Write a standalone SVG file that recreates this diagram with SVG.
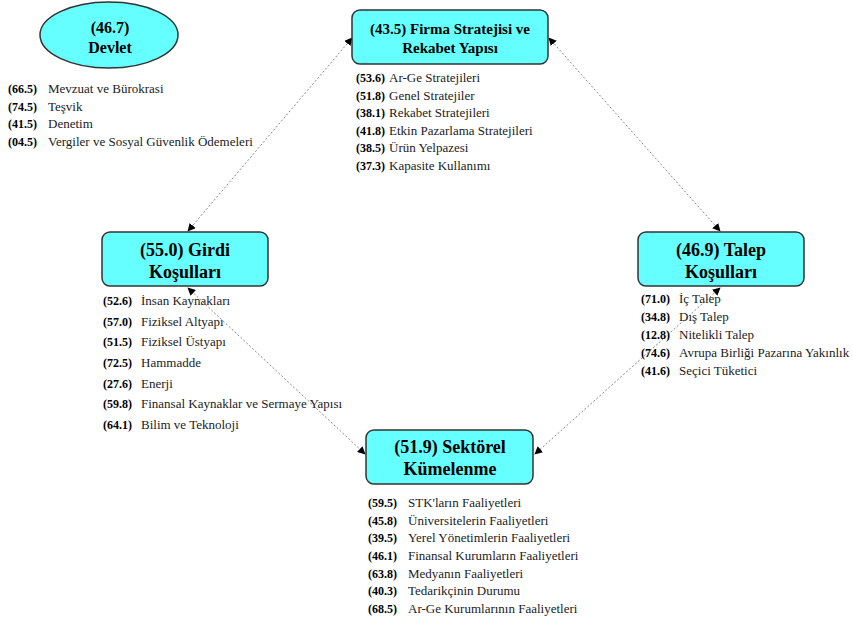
<svg xmlns="http://www.w3.org/2000/svg" width="853" height="622" viewBox="0 0 853 622" font-family="'Liberation Serif', 'Times New Roman', serif">
<defs>
<style>
.box{fill:#66ffff;stroke:#333;stroke-width:1.5}
.title{font-family:'Liberation Serif','Times New Roman',serif;font-weight:bold;fill:#000;text-anchor:middle}
.t18{font-size:18px}
.t16{font-size:16px}
.t15{font-size:15px}
.num{font-family:'Liberation Serif','Times New Roman',serif;font-weight:bold;font-size:12px;fill:#000}
.lbl{font-family:'Liberation Serif','Times New Roman',serif;font-size:13px;fill:#222}
.conn{stroke:#888;stroke-width:1;stroke-dasharray:2 2;fill:none;marker-start:url(#ah);marker-end:url(#ah)}
</style>
<marker id="ah" viewBox="0 0 10 10" refX="9" refY="5" markerWidth="8" markerHeight="8" markerUnits="userSpaceOnUse" orient="auto-start-reverse">
<path d="M0,0 L10,5 L0,10 z" fill="#000"/>
</marker>
</defs>
<g id="connectors">
<line class="conn" x1="188" y1="231" x2="352" y2="38"/>
<line class="conn" x1="549" y1="38" x2="720" y2="231"/>
<line class="conn" x1="188" y1="288" x2="365" y2="454"/>
<line class="conn" x1="720" y1="288" x2="535" y2="454"/>
</g>
<g id="devlet">
<ellipse class="box" cx="109" cy="35" rx="69" ry="33"/>
<text class="title t16" x="110" y="33">(46.7)</text>
<text class="title t16" x="110" y="53">Devlet</text>
<text class="num" x="8" y="93">(66.5)</text><text class="lbl" x="48" y="93">Mevzuat ve Bürokrasi</text>
<text class="num" x="8" y="110.5">(74.5)</text><text class="lbl" x="48" y="110.5">Teşvik</text>
<text class="num" x="8" y="128">(41.5)</text><text class="lbl" x="48" y="128">Denetim</text>
<text class="num" x="8" y="145.5">(04.5)</text><text class="lbl" x="48" y="145.5">Vergiler  ve Sosyal Güvenlik Ödemeleri</text>
</g>
<g id="firma">
<rect class="box" x="352" y="10" width="196" height="54" rx="8"/>
<text class="title t15" x="450" y="34">(43.5) Firma Stratejisi ve</text>
<text class="title t15" x="450" y="53">Rekabet Yapısı</text>
<text class="num" x="356" y="82">(53.6)</text><text class="lbl" x="389" y="82">Ar-Ge Stratejileri</text>
<text class="num" x="356" y="99.6">(51.8)</text><text class="lbl" x="389" y="99.6">Genel Stratejiler</text>
<text class="num" x="356" y="117.2">(38.1)</text><text class="lbl" x="389" y="117.2">Rekabet Stratejileri</text>
<text class="num" x="356" y="134.8">(41.8)</text><text class="lbl" x="389" y="134.8">Etkin Pazarlama Stratejileri</text>
<text class="num" x="356" y="152.4">(38.5)</text><text class="lbl" x="389" y="152.4">Ürün Yelpazesi</text>
<text class="num" x="356" y="170">(37.3)</text><text class="lbl" x="389" y="170">Kapasite Kullanımı</text>
</g>
<g id="girdi">
<rect class="box" x="102" y="232" width="166" height="54" rx="8"/>
<text class="title t18" x="185" y="256">(55.0) Girdi</text>
<text class="title t18" x="185" y="278">Koşulları</text>
<text class="num" x="103" y="305">(52.6)</text><text class="lbl" x="141" y="305">İnsan Kaynakları</text>
<text class="num" x="103" y="325.7">(57.0)</text><text class="lbl" x="141" y="325.7">Fiziksel Altyapı</text>
<text class="num" x="103" y="346.3">(51.5)</text><text class="lbl" x="141" y="346.3">Fiziksel Üstyapı</text>
<text class="num" x="103" y="367">(72.5)</text><text class="lbl" x="141" y="367">Hammadde</text>
<text class="num" x="103" y="387.7">(27.6)</text><text class="lbl" x="141" y="387.7">Enerji</text>
<text class="num" x="103" y="408.3">(59.8)</text><text class="lbl" x="141" y="408.3">Finansal Kaynaklar ve Sermaye Yapısı</text>
<text class="num" x="103" y="429">(64.1)</text><text class="lbl" x="141" y="429">Bilim ve Teknoloji</text>
</g>
<g id="talep">
<rect class="box" x="638" y="232" width="166" height="54" rx="8"/>
<text class="title t18" x="721" y="256">(46.9) Talep</text>
<text class="title t18" x="721" y="278">Koşulları</text>
<text class="num" x="641" y="303">(71.0)</text><text class="lbl" x="679" y="303">İç Talep</text>
<text class="num" x="641" y="321">(34.8)</text><text class="lbl" x="679" y="321">Dış Talep</text>
<text class="num" x="641" y="339">(12.8)</text><text class="lbl" x="679" y="339">Nitelikli  Talep</text>
<text class="num" x="641" y="357">(74.6)</text><text class="lbl" x="679" y="357">Avrupa Birliği  Pazarına Yakınlık</text>
<text class="num" x="641" y="375">(41.6)</text><text class="lbl" x="679" y="375">Seçici Tüketici</text>
</g>
<g id="sektorel">
<rect class="box" x="366" y="430" width="167" height="54" rx="8"/>
<text class="title t18" x="450" y="453">(51.9) Sektörel</text>
<text class="title t18" x="450" y="475">Kümelenme</text>
<text class="num" x="368" y="507">(59.5)</text><text class="lbl" x="408" y="507">STK'ların  Faaliyetleri</text>
<text class="num" x="368" y="524.7">(45.8)</text><text class="lbl" x="408" y="524.7">Üniversitelerin  Faaliyetleri</text>
<text class="num" x="368" y="542.3">(39.5)</text><text class="lbl" x="408" y="542.3">Yerel Yönetimlerin Faaliyetleri</text>
<text class="num" x="368" y="560">(46.1)</text><text class="lbl" x="408" y="560">Finansal Kurumların Faaliyetleri</text>
<text class="num" x="368" y="577.7">(63.8)</text><text class="lbl" x="408" y="577.7">Medyanın Faaliyetleri</text>
<text class="num" x="368" y="595.3">(40.3)</text><text class="lbl" x="408" y="595.3">Tedarikçinin  Durumu</text>
<text class="num" x="368" y="613">(68.5)</text><text class="lbl" x="408" y="613">Ar-Ge Kurumlarının Faaliyetleri</text>
</g>
</svg>
